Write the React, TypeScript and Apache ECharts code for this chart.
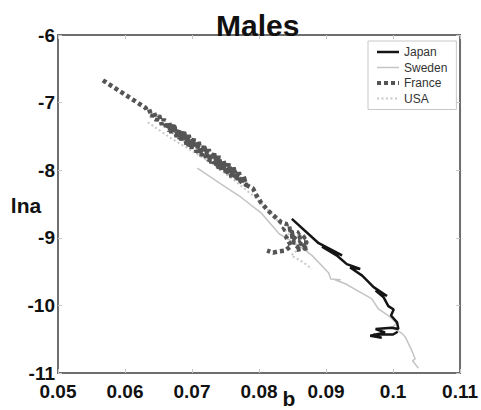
import React, { useEffect, useRef } from "react";
import * as echarts from "echarts";

const xTicks = [0.05, 0.06, 0.07, 0.08, 0.09, 0.1, 0.11];
const yTicks = [-11, -10, -9, -8, -7, -6];

const japan: [number, number][] = [
  [0.0849, -8.72], [0.0889, -9.08], [0.0924, -9.26], [0.0894, -9.13], [0.0917, -9.27],
  [0.0931, -9.39], [0.0951, -9.46], [0.0936, -9.44], [0.0954, -9.56], [0.0971, -9.73],
  [0.0991, -9.86], [0.0974, -9.78], [0.0986, -9.88], [0.0993, -10.01], [0.1001, -10.06],
  [0.0997, -10.15], [0.1006, -10.25], [0.1008, -10.35], [0.0998, -10.33], [0.0974, -10.35],
  [0.0988, -10.40], [0.0966, -10.45], [0.0983, -10.48], [0.0971, -10.43], [0.1000, -10.43],
  [0.1007, -10.39],
];

const sweden: [number, number][] = [
  [0.0708, -7.97], [0.0744, -8.21], [0.0773, -8.40], [0.0803, -8.63], [0.0830, -8.94],
  [0.0860, -9.12], [0.0879, -9.26], [0.0904, -9.52], [0.0907, -9.61], [0.0922, -9.62],
  [0.0913, -9.62], [0.0929, -9.68], [0.0952, -9.81], [0.0968, -9.90], [0.0978, -10.05],
  [0.0993, -10.15], [0.1005, -10.26], [0.0999, -10.33], [0.1013, -10.41], [0.1019, -10.48],
  [0.1028, -10.67], [0.1033, -10.79], [0.1029, -10.82], [0.1038, -10.93],
];

const france: [number, number][] = [
  [0.0567, -6.67], [0.0631, -7.08],
  [0.0632, -7.11], [0.0636, -7.10], [0.0640, -7.21], [0.0643, -7.14], [0.0647, -7.27],
  [0.0651, -7.19], [0.0655, -7.33], [0.0658, -7.24], [0.0662, -7.39], [0.0666, -7.29],
  [0.0669, -7.45], [0.0673, -7.33], [0.0677, -7.51], [0.0681, -7.39], [0.0684, -7.56],
  [0.0688, -7.43], [0.0692, -7.63], [0.0695, -7.48], [0.0699, -7.68], [0.0703, -7.54],
  [0.0707, -7.74], [0.0710, -7.58], [0.0714, -7.79], [0.0718, -7.63], [0.0721, -7.84],
  [0.0725, -7.69], [0.0729, -7.90], [0.0733, -7.74], [0.0736, -7.95], [0.0740, -7.79],
  [0.0744, -8.00], [0.0747, -7.86], [0.0751, -8.06], [0.0755, -7.90], [0.0759, -8.11],
  [0.0762, -7.96], [0.0766, -8.15], [0.0770, -8.03], [0.0773, -8.20], [0.0777, -8.09],
  [0.0781, -8.22],
  [0.0773, -8.17], [0.0766, -8.03], [0.0759, -8.06], [0.0751, -7.93], [0.0744, -7.96],
  [0.0736, -7.82], [0.0729, -7.85], [0.0721, -7.71], [0.0714, -7.74], [0.0707, -7.61],
  [0.0699, -7.63], [0.0692, -7.51], [0.0684, -7.52], [0.0677, -7.40], [0.0669, -7.41],
  [0.0662, -7.30],
  [0.0666, -7.42], [0.0673, -7.34], [0.0681, -7.53], [0.0688, -7.44], [0.0695, -7.64],
  [0.0703, -7.54], [0.0710, -7.76], [0.0718, -7.65], [0.0725, -7.86], [0.0733, -7.76],
  [0.0740, -7.97], [0.0747, -7.87], [0.0755, -8.07], [0.0762, -7.98], [0.0770, -8.17],
  [0.0777, -8.10], [0.0781, -8.22],
  [0.0791, -8.27], [0.0796, -8.37], [0.0803, -8.48], [0.0811, -8.57], [0.0818, -8.64],
  [0.0825, -8.70], [0.0833, -8.77], [0.0842, -8.80], [0.0836, -8.88], [0.0851, -8.86],
  [0.0845, -8.95], [0.0860, -8.92], [0.0852, -9.01], [0.0869, -8.98], [0.0860, -9.07],
  [0.0873, -9.07], [0.0863, -9.15], [0.0874, -9.15], [0.0854, -9.18], [0.0864, -9.09],
  [0.0848, -9.06], [0.0855, -8.97], [0.0840, -8.98], [0.0848, -9.12], [0.0839, -9.19],
  [0.0830, -9.20], [0.0821, -9.22], [0.0812, -9.19],
];

const usa: [number, number][] = [
  [0.0634, -7.29], [0.0666, -7.51], [0.0699, -7.71], [0.0730, -7.90], [0.0763, -8.15],
  [0.0793, -8.39], [0.0818, -8.63], [0.0842, -8.92], [0.0860, -9.16], [0.0848, -9.26],
  [0.0867, -9.37], [0.0879, -9.46],
];

const FONT = "'Liberation Sans', Arial, Helvetica, sans-serif";

export default function App() {
  const ref = useRef<HTMLDivElement>(null);
  useEffect(() => {
    if (!ref.current) return;
    const chart = echarts.init(ref.current, undefined, { renderer: "svg" });
    const fmt = (v: number) => String(+v.toFixed(2));
    const tick = { show: true, inside: true, length: 4, lineStyle: { color: "#c8c8c8" } };
    chart.setOption({
      animation: false,
      backgroundColor: "#ffffff",
      grid: {
        left: 58, right: 19, top: 35, bottom: 37,
        show: true, borderColor: "#6e6e6e", borderWidth: 2, backgroundColor: "transparent",
      },
      title: {
        text: "Males",
        left: 211,
        top: 5,
        textStyle: { fontFamily: FONT, fontSize: 30, fontWeight: "bold", color: "#111" },
      },
      legend: {
        data: [
          { name: "Japan", lineStyle: { width: 2.5 } },
          { name: "Sweden", lineStyle: { width: 1.5 } },
          { name: "France", lineStyle: { width: 4 } },
          { name: "USA", lineStyle: { width: 2 } },
        ],
        orient: "vertical",
        left: 368,
        top: 41,
        itemWidth: 22,
        itemHeight: 12,
        itemGap: 3.5,
        padding: [5, 9, 5, 7],
        borderColor: "#c8c8c8",
        borderWidth: 1,
        backgroundColor: "#ffffff",
        itemStyle: { opacity: 0 },
        textStyle: { fontFamily: FONT, fontSize: 12, color: "#333" },
      },
      xAxis: [
        {
          type: "value", min: xTicks[0], max: xTicks[xTicks.length - 1], interval: 0.01,
          axisLine: { show: false }, axisTick: tick, splitLine: { show: false },
          axisLabel: {
            formatter: fmt, fontFamily: FONT, fontSize: 19, fontWeight: "bold", color: "#111", margin: 9,
          },
        },
        {
          type: "value", position: "top", min: xTicks[0], max: xTicks[xTicks.length - 1], interval: 0.01,
          axisLine: { show: false }, axisTick: tick, splitLine: { show: false }, axisLabel: { show: false },
        },
      ],
      yAxis: [
        {
          type: "value", min: yTicks[0], max: yTicks[yTicks.length - 1], interval: 1,
          axisLine: { show: false }, axisTick: tick, splitLine: { show: false },
          axisLabel: { fontFamily: FONT, fontSize: 19, fontWeight: "bold", color: "#111", margin: 3 },
        },
        {
          type: "value", position: "right", min: yTicks[0], max: yTicks[yTicks.length - 1], interval: 1,
          axisLine: { show: false }, axisTick: tick, splitLine: { show: false }, axisLabel: { show: false },
        },
      ],
      graphic: [
        {
          type: "text", x: 26, y: 205,
          style: { text: "lna", fontFamily: FONT, fontSize: 21, fontWeight: "bold", fill: "#111", align: "center", verticalAlign: "middle" },
        },
        {
          type: "text", x: 289, y: 398,
          style: { text: "b", fontFamily: FONT, fontSize: 21, fontWeight: "bold", fill: "#111", align: "center", verticalAlign: "middle" },
        },
      ],
      series: [
        {
          name: "Sweden", type: "line", data: sweden, symbol: "none", showSymbol: false,
          lineStyle: { color: "#c4c4c4", width: 1.5 }, itemStyle: { color: "#c4c4c4" }, z: 2,
        },
        {
          name: "USA", type: "line", data: usa, symbol: "none", showSymbol: false,
          lineStyle: { color: "#c8c8c8", width: 2, type: [2, 2.5] }, itemStyle: { color: "#c8c8c8" }, z: 3,
        },
        {
          name: "France", type: "line", data: france, symbol: "none", showSymbol: false,
          lineStyle: { color: "#555555", width: 4.5, type: [4, 3], cap: "butt" }, itemStyle: { color: "#555555" }, z: 4,
        },
        {
          name: "Japan", type: "line", data: japan, symbol: "none", showSymbol: false,
          lineStyle: { color: "#151515", width: 2.5 }, itemStyle: { color: "#151515" }, z: 5,
        },
      ],
    });
    return () => chart.dispose();
  }, []);
  return (
    <div
      ref={ref}
      style={{ position: "fixed", left: 0, top: 0, width: 481, height: 410, background: "#fff" }}
    />
  );
}
